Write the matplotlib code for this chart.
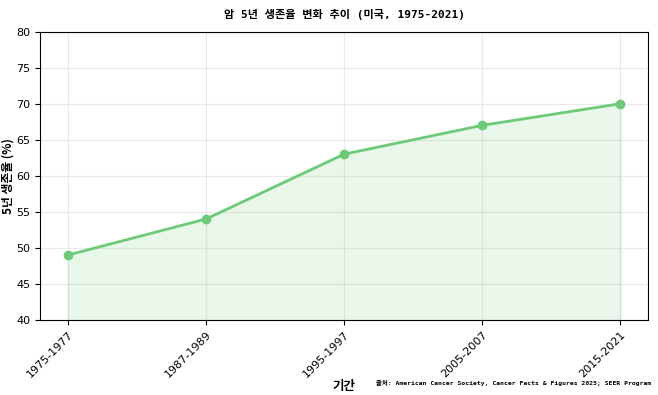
import matplotlib
matplotlib.use("Agg")
import matplotlib.pyplot as plt

periods = ["1975-1977", "1987-1989", "1995-1997", "2005-2007", "2015-2021"]
survival = [49, 54, 63, 67, 70]

title = "암 5년 생존율 변화 추이 (미국, 1975-2021)"
xlabel = "기간"
ylabel = "5년 생존율 (%)"
source = "출처: American Cancer Society, Cancer Facts & Figures 2025; SEER Program"

plt.rcParams['font.family'] = ['DejaVu Sans', 'Noto Sans CJK KR']
mono = ['DejaVu Sans Mono', 'Noto Sans CJK KR']

color = '#6dcb78'
fig, ax = plt.subplots(figsize=(6.58, 3.95), dpi=100)
fig.subplots_adjust(left=0.061, right=0.985, top=0.92, bottom=0.19)

x = list(range(len(periods)))
ax.plot(x, survival, color=color, linewidth=2, marker='o', markersize=6)
ax.fill_between(x, survival, 40, color=color, alpha=0.15)
ax.set_xlim(-0.2, len(periods) - 0.8)
ax.set_ylim(40, 80)
ax.set_xticks(x)
ax.set_xticklabels(periods, rotation=45, ha='right', rotation_mode='anchor', fontsize=8)
ax.tick_params(axis='y', labelsize=8)
ax.grid(True, color='#dddddd', alpha=0.6, linewidth=0.8)
ax.set_axisbelow(True)
ax.set_xlabel(xlabel, fontsize=9, fontweight='bold', family=['Noto Sans CJK KR'], labelpad=0)
ax.set_ylabel(ylabel, fontsize=8.5, fontweight='bold', family=['Noto Sans CJK KR'], labelpad=1)
ax.set_title(title, fontsize=8, fontweight='bold', family=mono, pad=10)
fig.text(0.99, 0.022, source, ha='right', va='bottom', fontsize=4.6, fontweight='bold', family=mono)

fig.savefig("out.png", dpi=100)
